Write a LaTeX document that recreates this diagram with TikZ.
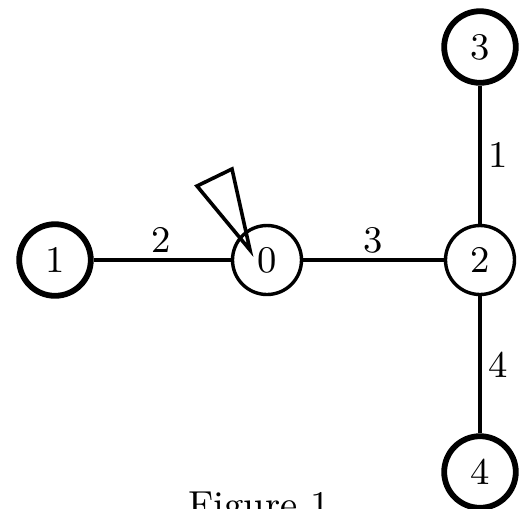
\documentclass[tikz,border=0pt]{standalone}
\begin{document}
\begin{tikzpicture}[x=0.25pt,y=-0.25pt,
  vert/.style={circle,draw,line width=0.85pt,minimum size=17.25pt,inner sep=0pt,font=\fontsize{9.4}{11}\selectfont},
  leaf/.style={vert,line width=1.45pt,minimum size=17.9pt},
  edge/.style={line width=0.85pt},
  wlab/.style={font=\fontsize{9.4}{11}\selectfont,inner sep=0pt}]
\useasboundingbox (0,0) rectangle (527,508);
\node[vert] (n0) at (267,260) {0};
\node[leaf] (n1) at (55,260) {1};
\node[vert] (n2) at (480,260) {2};
\node[leaf] (n3) at (480,47) {3};
\node[leaf] (n4) at (480,472) {4};
\draw[edge] (n1) -- (n0);
\draw[edge] (n0) -- (n2);
\draw[edge] (n2) -- (n3);
\draw[edge] (n2) -- (n4);
\node[wlab] (w10) at (161,240) {2};
\node[wlab] (w02) at (373,240) {3};
\node[wlab] (w23) at (498,155) {1};
\node[wlab] (w24) at (498,365) {4};
% start marker pointing into vertex 0
\coordinate (ta) at (197,186);
\coordinate (tb) at (232,169);
\coordinate (tc) at (250,250);
\draw[line width=0.9pt,miter limit=10] (tc) -- (ta) -- (tb) -- cycle;
\node[font=\fontsize{9.4}{11}\selectfont,anchor=base,inner sep=0pt] (cap) at (259,517) {Figure 1};
\end{tikzpicture}
\end{document}
